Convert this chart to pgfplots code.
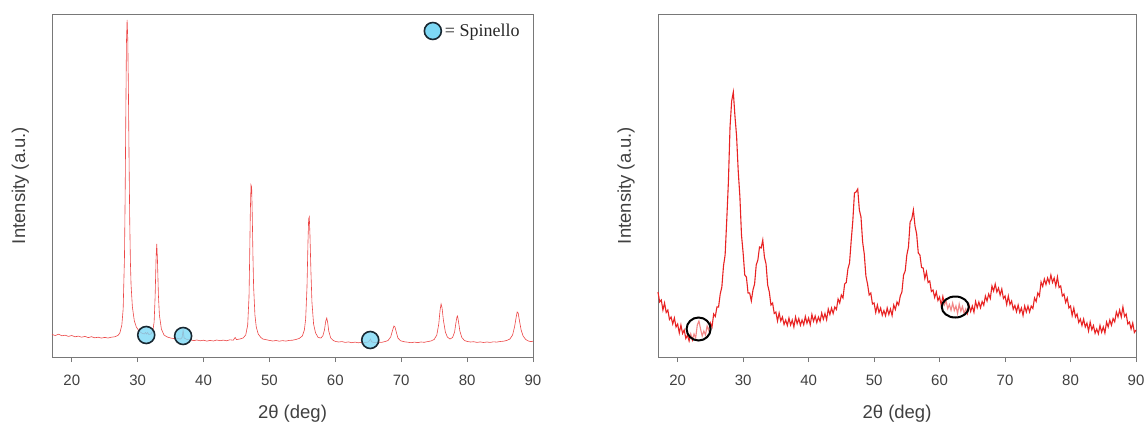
\documentclass[border=0pt]{standalone}
\usepackage{pgfplots}
\pgfplotsset{compat=1.18}
\usepackage{pgfplotstable}
\usepackage{fontspec}
\setmainfont{Liberation Sans}
\newfontfamily\timesfont{Liberation Serif}
\definecolor{lred}{RGB}{236,70,70}
\definecolor{rred}{RGB}{232,35,35}
\definecolor{cyanf}{RGB}{125,216,245}
\definecolor{ringc}{RGB}{25,40,50}
\definecolor{framec}{RGB}{120,120,120}
\definecolor{tickl}{RGB}{64,64,64}
\pgfdeclareplotmark{ellA}{\pgfpathellipse{\pgfpointorigin}{\pgfqpoint{12pt}{0pt}}{\pgfqpoint{0pt}{11.5pt}}\pgfusepathqfillstroke}
\pgfdeclareplotmark{ellB}{\pgfpathellipse{\pgfpointorigin}{\pgfqpoint{13.5pt}{0pt}}{\pgfqpoint{0pt}{10.5pt}}\pgfusepathqfillstroke}

\pgfplotstableread{
x y
17 22.5
17.5 21.5
18 22.8
18.5 21.2
19 21.8
19.5 20.6
20 21.5
20.5 20.2
21 20.9
21.5 19.8
22 20.6
22.5 19.4
23 20.3
23.5 19.2
24 19.8
24.5 18.9
25 19.6
25.5 19.0
26 19.8
26.5 20.2
27 21.5
27.3 24
27.6 32
27.8 48
28.0 100
28.1 160
28.2 240
28.3 315
28.4 337
28.5 318
28.6 265
28.7 195
28.8 135
28.9 95
29.0 72
29.2 50
29.5 36
29.8 30
30.2 26
30.6 24
31.0 23
31.2 24.5
31.35 23
31.5 24.5
31.7 22.5
32.0 23
32.3 26
32.5 35
32.65 60
32.8 100
32.9 113
33.0 98
33.15 62
33.3 42
33.6 28
34.0 22
34.5 20
35 19
35.5 18.4
36 18.8
36.5 17.9
36.75 19.5
36.9 27
37.05 19
37.5 17.5
38 17.2
38.5 16.4
39 17.0
39.5 16.2
40 16.8
40.5 15.9
41 16.6
41.5 16.0
42 17.0
42.5 16.3
43 16.9
43.5 16.2
44 17.2
44.5 16.8
44.8 19.5
45 17.4
45.5 18.0
46 19.0
46.4 22
46.7 32
46.9 60
47.0 100
47.1 145
47.2 172
47.3 170
47.4 140
47.5 100
47.6 70
47.8 42
48.0 30
48.3 23
48.7 19.5
49 18
49.5 17.3
50 16.6
50.5 16.0
51 16.5
51.5 15.8
52 16.4
52.5 15.9
53 16.6
53.5 16.8
54 17.5
54.5 18.5
55 21
55.3 27
55.5 38
55.7 70
55.85 115
55.95 138
56.05 140
56.15 122
56.3 85
56.45 55
56.7 33
57.0 24
57.4 19.5
57.8 19
58.1 21
58.35 27
58.55 36
58.7 39
58.85 34
59.0 26
59.3 19
59.7 16.5
60 15.6
60.5 15.0
61 15.4
61.5 14.6
62 15.1
62.5 14.3
63 14.9
63.5 14.2
64 14.8
64.5 14.5
65 15.0
65.2 16.5
65.35 18
65.5 15.2
66 14.3
66.5 14.9
67 14.6
67.5 15.4
68 16.5
68.4 20
68.7 27
68.9 31
69.05 30
69.25 25
69.5 19
69.9 16.2
70.5 15.2
71 14.8
71.5 14.3
72 14.9
72.5 14.4
73 15.0
73.5 14.7
74 15.4
74.5 16.0
75 17.5
75.4 22
75.7 33
75.9 47
76.05 53
76.2 49
76.4 37
76.7 25
77.0 20
77.4 18
77.8 19.5
78.1 25
78.3 34
78.45 40
78.55 41
78.7 35
78.9 26
79.2 19.5
79.6 16.5
80 15.6
80.5 15.0
81 15.3
81.5 14.6
82 15.1
82.5 14.5
83 15.0
83.5 14.6
84 15.2
84.5 14.9
85 15.5
85.5 15.8
86 16.5
86.5 18
86.9 22
87.2 30
87.45 40
87.6 45
87.75 44
87.95 36
88.2 27
88.5 21
88.9 17.5
89.3 16
89.7 15.4
90 15.8
}\leftdata

\pgfplotstableread{
x y
17.00 65
17.25 55
17.50 57
17.75 47
18.00 54
18.25 44.5
18.50 47
18.75 37.5
19.00 40
19.25 33
19.50 39
19.75 30
20.00 33
20.25 24
20.50 32
20.75 23.5
21.00 27
21.25 18.5
21.50 22
21.75 16
22.00 23
22.25 17
22.50 23
22.75 19
23.00 32
23.25 36
23.50 28
23.75 21
24.00 26
24.25 22
24.50 31
24.75 26.5
25.00 34
25.25 30
25.50 43
25.75 40.5
26.00 50
26.25 50
26.50 63
26.75 70
27.00 91
27.25 102
27.50 137
27.75 175
28.00 230
28.25 256
28.50 265
28.75 241
29.00 221
29.25 186
29.50 161
29.75 122
30.00 104
30.25 82
30.50 80
30.75 64
31.00 64
31.25 56
31.50 67
31.75 73
32.00 92
32.25 97
32.50 110
32.75 109
33.00 117
33.25 100
33.50 93
33.75 72
34.00 65
34.25 52
34.50 54
34.75 43.5
35.00 45
35.25 36
35.50 44
35.75 36
36.00 40
36.25 32.5
36.50 37
36.75 31.5
37.00 39
37.25 32
37.50 37
37.75 30
38.00 40
38.25 33.25
38.50 38.5
38.75 31.75
39.00 37
39.25 32.25
39.50 40.5
39.75 33.75
40.00 39
40.25 32.25
40.50 42.5
40.75 35.75
41.00 41
41.25 34.5
41.50 40
41.75 35.5
42.00 44
42.25 37.75
42.50 43.5
42.75 37.25
43.00 48
43.25 42.5
43.50 49
43.75 43.5
44.00 50
44.25 47.5
44.50 58
44.75 54
45.00 62
45.25 59
45.50 73
45.75 74.5
46.00 88
46.25 94
46.50 116
46.75 136
47.00 164
47.25 165
47.50 168
47.75 147
48.00 140
48.25 115
48.50 103
48.75 81
49.00 73
49.25 62
49.50 64
49.75 53
50.00 54
50.25 44.5
50.50 52
50.75 44.5
51.00 49
51.25 41.75
51.50 46.5
51.75 41.25
52.00 49
52.25 42.5
52.50 48
52.75 41.5
53.00 52
53.25 47.5
53.50 55
53.75 52
54.00 61
54.25 65
54.50 82
54.75 86
55.00 102
55.25 110
55.50 135
55.75 138
56.00 147
56.25 131
56.50 123
56.75 104
57.00 102
57.25 89.5
57.50 89
57.75 78.5
58.00 85
58.25 74.5
58.50 76
58.75 65.5
59.00 67
59.25 59.5
59.50 65
59.75 56.5
60.00 60
60.25 51.75
60.50 60.5
60.75 52.25
61.00 56
61.25 48.25
61.50 52.5
61.75 46.75
62.00 54
62.25 46.5
62.50 51
62.75 43.5
63.00 53
63.25 45.75
63.50 50.5
63.75 43.25
64.00 48
64.25 43.5
64.50 52
64.75 45.5
65.00 51
65.25 44.75
65.50 55.5
65.75 49.25
66.00 55
66.25 49.25
66.50 55.5
66.75 51.75
67.00 61
67.25 56
67.50 63
67.75 58.5
68.00 71
68.25 66
68.50 73
68.75 65
69.00 69
69.25 62
69.50 68
69.75 58.5
70.00 61
70.25 52.5
70.50 61
70.75 52.5
71.00 56
71.25 47.75
71.50 51.5
71.75 45.25
72.00 52
72.25 44.5
72.50 49
72.75 41.5
73.00 51
73.25 45
73.50 51
73.75 45
74.00 51
74.25 48.5
74.50 59
74.75 55.5
75.00 64
75.25 61
75.50 75
75.75 70.5
76.00 78
76.25 72.5
76.50 79
76.75 74
77.00 82
77.25 74.5
77.50 79
77.75 71
78.00 80
78.25 69.5
78.50 71
78.75 61
79.00 63
79.25 54.5
79.50 59
79.75 49
80.00 51
80.25 41.5
80.50 49
80.75 40
81.00 43
81.25 34.5
81.50 38
81.75 31.5
82.00 38
82.25 30
82.50 34
82.75 26
83.00 35
83.25 27.25
83.50 31.5
83.75 23.75
84.00 28
84.25 23.25
84.50 31.5
84.75 24.75
85.00 30
85.25 24
85.50 35
85.75 30
86.00 37
86.25 31.75
86.50 38.5
86.75 35.25
87.00 45
87.25 40
87.50 47
87.75 40
88.00 50
88.25 40.5
88.50 43
88.75 33
89.00 35
89.25 28
89.50 34
89.75 24.5
90.00 27
}\rightdata

\pgfplotsset{
  xrdaxis/.style={
    scale only axis,
    width=481pt, height=343pt,
    xmin=17, xmax=90, ymin=0, ymax=343,
    xtick={20,30,...,90},
    ytick=\empty,
    xtick pos=left,
    tick align=outside,
    major tick length=5pt,
    every tick/.style={framec, line width=0.8pt},
    axis line style={framec, line width=0.9pt},
    /pgf/number format/assume math mode=true,
    ticklabel style={font=\fontsize{15}{17}\selectfont, text=tickl},
    xticklabel style={yshift=-9pt},
    xlabel={2θ (deg)},
    ylabel={Intensity (a.u.)},
    label style={font=\fontsize{18.5}{20}\selectfont, text=tickl},
    xlabel style={at={(axis description cs:0.5,-0.179)}, anchor=base},
    ylabel style={at={(axis description cs:-0.066,0.5)}, anchor=center, rotate=0},
    clip=false,
  }
}

\begin{document}
\begin{tikzpicture}[x=1pt,y=1pt]
\useasboundingbox (0,0) rectangle (1147,421);
\begin{axis}[xrdaxis, at={(52pt,64pt)}, anchor=south west]
  \addplot[lred, line width=0.6pt, mark=none] table[x=x,y=y]{\leftdata};
  \addplot[only marks, mark=*, mark size=8.5pt,
    mark options={fill=cyanf, fill opacity=0.8, draw=ringc, line width=1.6pt}]
    coordinates {(31.3,22) (36.9,21) (65.3,17)};
  \addplot[only marks, mark=*, mark size=8.5pt,
    mark options={fill=cyanf, draw=ringc, line width=1.6pt}]
    coordinates {(74.8,326)};
  \node[anchor=west, inner sep=0pt, font=\timesfont\fontsize{18}{20}\selectfont, text=black!85]
    at (axis cs:76.6,325) {= Spinello};
\end{axis}
\begin{axis}[xrdaxis, width=478pt, at={(658pt,64pt)}, anchor=south west,
  ylabel style={at={(axis description cs:-0.067,0.5)}}]
  \addplot[rred, line width=1.1pt, mark=none] table[x=x,y=y]{\rightdata};
  \addplot[only marks, mark=ellA,
    mark options={fill=white, fill opacity=0.45, draw=black, line width=2pt}]
    coordinates {(23.2,28)};
  \addplot[only marks, mark=ellB,
    mark options={fill=white, fill opacity=0.45, draw=black, line width=2pt}]
    coordinates {(62.4,50)};
\end{axis}
\end{tikzpicture}
\end{document}
